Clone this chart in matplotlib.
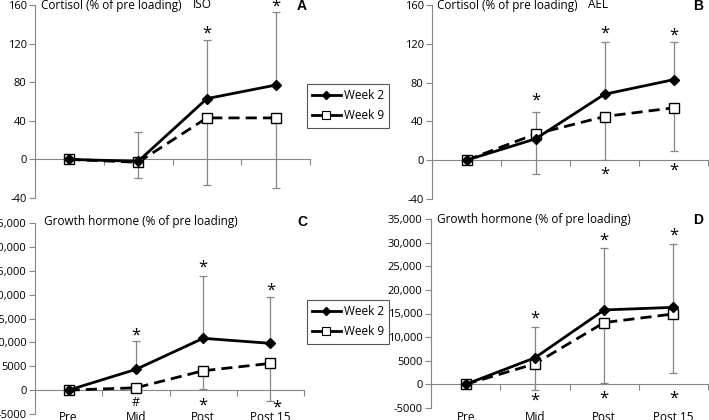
import matplotlib
matplotlib.use("Agg")
import matplotlib.pyplot as plt
import matplotlib.transforms as mtransforms
from matplotlib.lines import Line2D

plt.rcParams['font.family'] = ['Open Sans', 'DejaVu Sans']

categories = ['Pre', 'Mid', 'Post', 'Post 15']

# Panel A: Cortisol ISO
iso_cort_w2 = [0, -2, 63, 77]
iso_cort_w2_err = [0, 30, 61, 76]
iso_cort_w9 = [0, -3, 43, 43]
iso_cort_w9_err = [0, 16, 70, 73]

# Panel B: Cortisol AEL
ael_cort_w2 = [0, 22, 68, 83]
ael_cort_w2_err = [0, 28, 54, 39]
ael_cort_w9 = [0, 27, 45, 54]
ael_cort_w9_err = [0, 41, 45, 44]

# Panel C: Growth hormone ISO
iso_gh_w2 = [0, 4340, 10850, 9800]
iso_gh_w2_err = [0, 5950, 13150, 9800]
iso_gh_w9 = [0, 490, 4060, 5600]
iso_gh_w9_err = [0, 200, 3920, 7840]

# Panel D: Growth hormone AEL
ael_gh_w2 = [0, 5620, 15750, 16300]
ael_gh_w2_err = [0, 6480, 13050, 13500]
ael_gh_w9 = [0, 4360, 13080, 14900]
ael_gh_w9_err = [0, 5630, 12730, 12580]

cort_ticks = [-40, 0, 40, 80, 120, 160]
cort_ticklabels = ['-40', '0', '40', '80', '120', '160']
gh_ticks = [-5000, 0, 5000, 10000, 15000, 20000, 25000, 30000, 35000]
gh_ticklabels = ['-5000', '0', '5000', '10,000', '15,000', '20,000', '25,000', '30,000', '35,000']

# significance marks: (category index, y value, symbol)
stars_A = [(2, 132, '*'), (3, 160, '*')]
stars_B = [(1, 63, '*'), (2, 133, '*'), (3, 130, '*'), (2, -13, '*'), (3, -9, '*')]
stars_C = [(1, 11900, '*'), (2, 26000, '*'), (3, 21350, '*'), (1, -2600, '#'), (2, -2800, '*'), (3.09, -3200, '*')]
stars_D = [(1, 14270, '*'), (2, 30900, '*'), (3, 32000, '*'), (1, -3000, '*'), (2, -2670, '*'), (3, -2670, '*')]

W, H = 709, 420
fig = plt.figure(figsize=(W / 100, H / 100), dpi=100)

def fx(px):
    return px / W

def fy(py):
    return 1 - py / H

GRAY = '#868686'
FS = 8.5
TFS = 8

def make_panel(rect, w2, w2e, w9, w9e, ylim, ticks, ticklabels, stars, title, subtitle,
               subx, letter, letter_x, title_y, show_cats):
    l, r, t, b = rect
    ax = fig.add_axes([fx(l), fy(b), fx(r) - fx(l), fy(t) - fy(b)])
    x = list(range(len(categories)))
    ax.errorbar(x, w2, yerr=[[0] * 4, w2e], fmt='none', ecolor=GRAY, elinewidth=0.9,
                capsize=3, capthick=0.9, zorder=2)
    ax.errorbar(x, w9, yerr=[w9e, [0] * 4], fmt='none', ecolor=GRAY, elinewidth=0.9,
                capsize=3, capthick=0.9, zorder=2)
    ax.plot(x, w9, color='black', lw=2, linestyle=(0, (4, 2.2)), marker='s', ms=6.5,
            mfc='white', mec='black', mew=1, zorder=3, label='Week 9')
    ax.plot(x, w2, color='black', lw=2, marker='D', ms=5.5, mfc='black', mec='black',
            zorder=4, label='Week 2')
    ax.set_xlim(-0.5, 3.5)
    ax.set_ylim(*ylim)
    ax.set_yticks(ticks)
    ax.set_yticklabels(ticklabels)
    for s in ['top', 'right']:
        ax.spines[s].set_visible(False)
    ax.spines['left'].set_color(GRAY)
    ax.spines['bottom'].set_color(GRAY)
    ax.spines['bottom'].set_position(('data', 0))
    ax.set_xticks([-0.5, 0.5, 1.5, 2.5, 3.5])
    ax.set_xticklabels([])
    ax.tick_params(axis='both', direction='out', color=GRAY, length=4, width=0.8,
                   labelsize=TFS, pad=2)
    ax.patch.set_alpha(0)
    for (cx, cy, sym) in stars:
        ax.text(cx, cy, sym, ha='center', va='center_baseline' if sym == '*' else 'center',
                fontsize=12 if sym == '*' else 9, clip_on=False)
    fig.text(fx(title[1]), fy(title_y), title[0], ha='left', va='center', fontsize=FS)
    if subtitle:
        fig.text(fx(subx), fy(title_y), subtitle, ha='center', va='center', fontsize=FS)
    fig.text(fx(letter_x), fy(title_y + 1), letter, ha='center', va='center', fontsize=10,
             fontweight='bold', family=['Liberation Sans', 'DejaVu Sans'])
    if show_cats:
        tr = mtransforms.blended_transform_factory(ax.transData, fig.transFigure)
        for i, c in enumerate(categories):
            ax.text(i, fy(411), c, transform=tr, ha='center', va='top', fontsize=FS)
    return ax

axA = make_panel((35, 310, 5, 198), iso_cort_w2, iso_cort_w2_err, iso_cort_w9, iso_cort_w9_err,
                 (-40, 160), cort_ticks, cort_ticklabels, stars_A,
                 ('Cortisol (% of pre loading)', 41), 'ISO', 202, 'A', 302, 5, False)
axB = make_panel((432, 708, 5, 199), ael_cort_w2, ael_cort_w2_err, ael_cort_w9, ael_cort_w9_err,
                 (-40, 160), cort_ticks, cort_ticklabels, stars_B,
                 ('Cortisol (% of pre loading)', 437), 'AEL', 598, 'B', 698, 5, False)
axC = make_panel((35, 304, 223, 414), iso_gh_w2, iso_gh_w2_err, iso_gh_w9, iso_gh_w9_err,
                 (-5000, 35000), gh_ticks, gh_ticklabels, stars_C,
                 ('Growth hormone (% of pre loading)', 44), None, 0, 'C', 302, 221, True)
axD = make_panel((431, 708, 219, 408), ael_gh_w2, ael_gh_w2_err, ael_gh_w9, ael_gh_w9_err,
                 (-5000, 35000), gh_ticks, gh_ticklabels, stars_D,
                 ('Growth hormone (% of pre loading)', 437), None, 0, 'D', 698, 219, True)

def add_legend(top_px):
    handles = [Line2D([], [], color='black', lw=2, marker='D', ms=4.5, mfc='black'),
               Line2D([], [], color='black', lw=2, linestyle='-', marker='s', ms=6,
                      mfc='white', mec='black', mew=0.8)]
    leg = fig.legend(handles, ['Week 2', 'Week 9'], loc='upper left',
                     bbox_to_anchor=(fx(307), fy(top_px)), bbox_transform=fig.transFigure,
                     frameon=True, fancybox=False, edgecolor='#555555', fontsize=FS,
                     handlelength=2.4, handletextpad=0.25, borderpad=0.45, labelspacing=0.6,
                     borderaxespad=0, framealpha=1)
    leg.get_frame().set_linewidth(0.8)
    return leg

add_legend(84)
add_legend(300)

fig.savefig('out.png', dpi=100)
